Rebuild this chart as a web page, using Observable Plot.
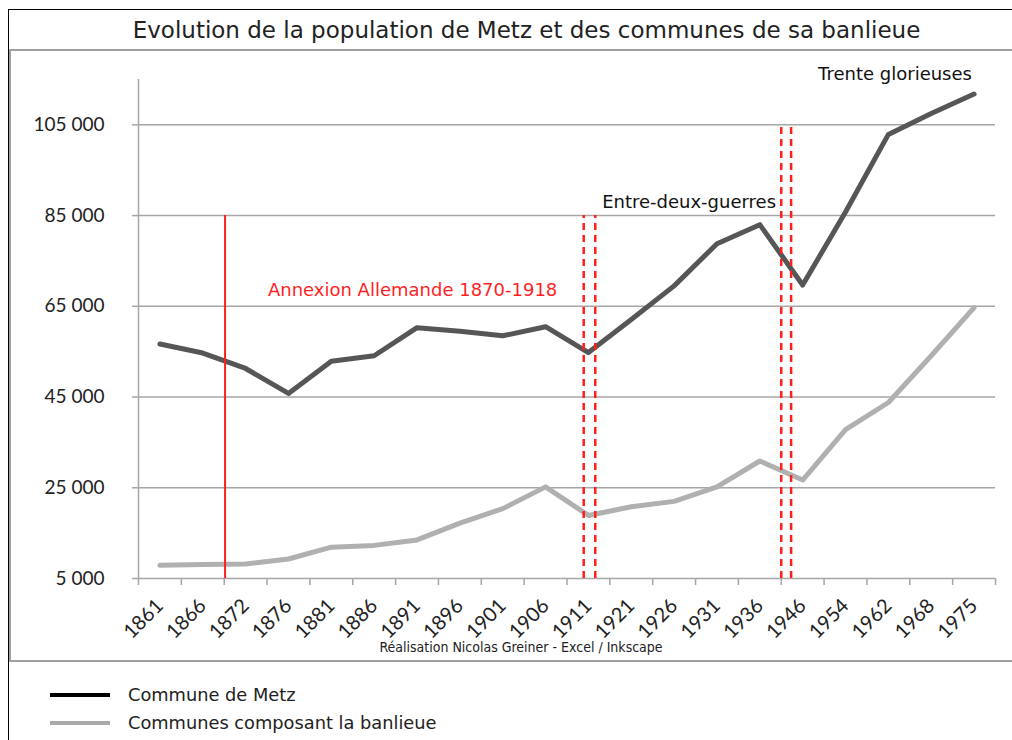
<!DOCTYPE html>
<html>
<head>
<meta charset="utf-8">
<script src="https://cdn.jsdelivr.net/npm/d3@7"></script>
<script src="https://cdn.jsdelivr.net/npm/@observablehq/plot@0.6"></script>
<style>
  body { margin:0; background:#fff; width:1012px; height:740px; overflow:hidden; position:relative; font-family:"DejaVu Sans", sans-serif; }
  #chart { position:absolute; left:0; top:50px; }
  #frame { position:absolute; left:8px; top:9px; width:1100px; height:800px; border-left:1.5px solid #000; border-top:1.5px solid #000; pointer-events:none; }
  #title { position:absolute; left:0; width:1053px; top:19px; text-align:center; font-size:23px; line-height:23px; color:#222; white-space:nowrap; }
  #panel { position:absolute; left:9px; top:49px; width:1100px; height:609px; border-top:2.5px solid #a0a0a0; border-left:2px solid #a0a0a0; border-bottom:2px solid #a0a0a0; pointer-events:none; }
  #caption { position:absolute; left:0; width:1042px; top:640px; text-align:center; font-family:"DejaVu Sans Condensed", "DejaVu Sans", sans-serif; font-size:14px; line-height:15px; color:#222; white-space:nowrap; }
  .legline { position:absolute; left:50px; width:60px; height:4px; }
  .legtext { position:absolute; left:128px; font-size:17.8px; line-height:20px; color:#222; white-space:nowrap; }
</style>
</head>
<body>
<div id="chart"></div>
<div id="frame"></div>
<div id="panel"></div>
<div id="title">Evolution de la population de Metz et des communes de sa banlieue</div>
<div id="caption">Réalisation Nicolas Greiner - Excel / Inkscape</div>
<div class="legline" style="top:693px;background:#000"></div>
<div class="legtext" style="top:685px">Commune de Metz</div>
<div class="legline" style="top:721px;background:#aaa"></div>
<div class="legtext" style="top:713px">Communes composant la banlieue</div>
<script>
// ---- data ----
const years = ["1861","1866","1872","1876","1881","1886","1891","1896","1901","1906",
               "1911","1921","1926","1931","1936","1946","1954","1962","1968","1975"];
const metz = [56700, 54700, 51300, 45800, 52900, 54100, 60300, 59500, 58500, 60500,
              54800, 62100, 69500, 78800, 83000, 69700, 85800, 102900, 107500, 111800];
const banlieue = [7900, 8100, 8200, 9300, 11900, 12300, 13500, 17200, 20400, 25200,
                  18900, 20800, 22000, 25200, 30900, 26700, 37800, 43800, 54100, 64700];
const yTicks = [5000, 25000, 45000, 65000, 85000, 105000];
const yTickLabels = ["5 000", "25 000", "45 000", "65 000", "85 000", "105 000"];
const seriesNames = ["Commune de Metz", "Communes composant la banlieue"];
// event markers, in category-index units
const annexionLine = [1.52];
const guerreLines1 = [9.89, 10.16];
const guerreLines2 = [14.5, 14.73];
const annotations = [
  {x: 2.52, y: 68500, text: "Annexion Allemande 1870-1918", color: "#ff1f1f"},
  {x: 10.32, y: 87900, text: "Entre-deux-guerres", color: "#111"},
  {x: 15.36, y: 116200, text: "Trente glorieuses", color: "#111"}
];

const rows = years.map((y, i) => ({i, year: y, metz: metz[i], banlieue: banlieue[i]}));
const bounds = d3.range(years.length + 1).map(k => k - 0.5);
const gridColor = "#a6a6a6";

const chart = Plot.plot({
  width: 1012,
  height: 610,
  marginLeft: 138,
  marginRight: 17,
  marginTop: 29,
  marginBottom: 82,
  style: {background: "transparent", overflow: "visible"},
  x: {type: "linear", domain: [-0.5, years.length - 0.5]},
  y: {domain: [5000, 115000]},
  marks: [
    Plot.ruleY(yTicks, {x1: -0.5, x2: years.length - 0.5, stroke: gridColor, strokeWidth: 1.5}),
    Plot.ruleX([-0.5], {y1: 5000, y2: 115000, stroke: gridColor, strokeWidth: 1.5}),
    Plot.axisY({ticks: yTicks, tickFormat: d => yTickLabels[yTicks.indexOf(d)], tickSize: 6, tickPadding: 28,
                stroke: gridColor, strokeWidth: 1.5, fontSize: 19, fontFamily: "Lato", fill: "#222", label: null}),
    Plot.axisX({ticks: bounds, tickFormat: () => "", tickSize: 7, stroke: gridColor, strokeWidth: 1.5, label: null}),
    Plot.axisX({ticks: d3.range(years.length), tickFormat: i => years[i], tickSize: 0, tickPadding: 24, tickRotate: -45,
                fontSize: 20, fontFamily: "Lato", fill: "#222", label: null}),
    Plot.line(rows, {x: "i", y: "banlieue", stroke: "#b0b0b0", strokeWidth: 5}),
    Plot.line(rows, {x: "i", y: "metz", stroke: "#565656", strokeWidth: 5}),
    Plot.ruleX(annexionLine, {y1: 5000, y2: 85000, stroke: "#ff1f1f", strokeWidth: 2}),
    Plot.ruleX(guerreLines1, {y1: 5000, y2: 85000, stroke: "#ff1f1f", strokeWidth: 2.5, strokeDasharray: "7,5"}),
    Plot.ruleX(guerreLines2, {y1: 5000, y2: 105000, stroke: "#ff1f1f", strokeWidth: 2.5, strokeDasharray: "7,5"}),
    Plot.text(annotations, {x: "x", y: "y", text: "text", fill: "color", textAnchor: "start",
                            fontSize: 18, fontFamily: "DejaVu Sans"})
  ]
});
document.getElementById("chart").appendChild(chart);
</script>
</body>
</html>
